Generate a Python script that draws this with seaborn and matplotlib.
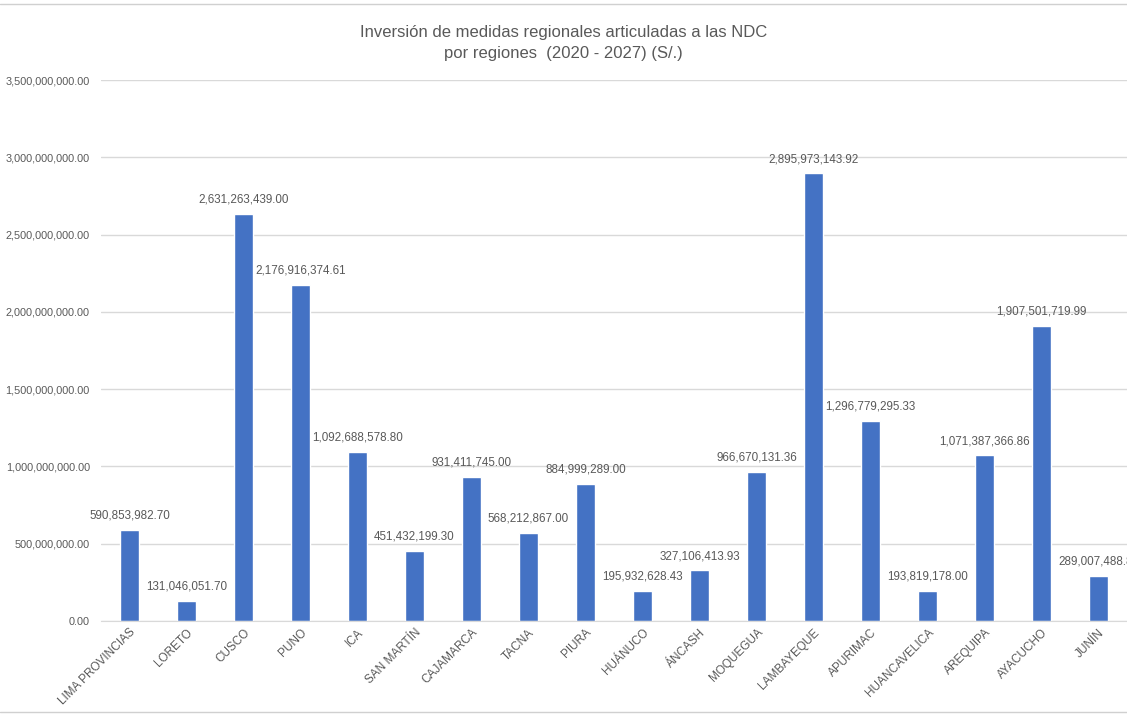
import pandas as pd
import numpy as np

import seaborn as sns
import matplotlib.pyplot as plt
import matplotlib as mpl
from matplotlib.ticker import FuncFormatter


regions = ['LIMA PROVINCIAS', 'LORETO', 'CUSCO', 'PUNO', 'ICA', 'SAN MARTÍN',
           'CAJAMARCA', 'TACNA', 'PIURA', 'HUÁNUCO', 'ÁNCASH', 'MOQUEGUA',
           'LAMBAYEQUE', 'APURIMAC', 'HUANCAVELICA', 'AREQUIPA', 'AYACUCHO', 'JUNÍN']
investment = [590853982.70, 131046051.70, 2631263439.00, 2176916374.61,
              1092688578.80, 451432199.30, 931411745.00, 568212867.00,
              884999289.00, 195932628.43, 327106413.93, 966670131.36,
              2895973143.92, 1296779295.33, 193819178.00, 1071387366.86,
              1907501719.99, 289007488.80]
y_ticks = [0, 500e6, 1000e6, 1500e6, 2000e6, 2500e6, 3000e6, 3500e6]

title = 'Inversión de medidas regionales articuladas a las NDC\npor regiones  (2020 - 2027) (S/.)'

BLUE = '#4472C4'
GREY = '#595959'


def draw_bars(df):
    sns.set_style('white')
    mpl.rcParams['font.family'] = ['Liberation Sans Narrow', 'Liberation Sans', 'DejaVu Sans']
    fig = plt.figure(figsize=(11.27, 7.14), dpi=100)
    ax = fig.add_axes([101 / 1127, 93 / 714, 1026 / 1127, 541 / 714])

    sns.barplot(data=df, x='region', y='value', color=BLUE, width=0.32,
                saturation=1, ax=ax)

    ax.set_ylim(0, 3.5e9)
    ax.set_xlim(-0.5, len(regions) - 0.5)
    ax.set_yticks(y_ticks)
    ax.yaxis.set_major_formatter(FuncFormatter(lambda v, p: f'{v:,.2f}'))
    ax.tick_params(axis='y', labelsize=7.8, labelcolor=GREY, length=0, pad=8)
    ax.tick_params(axis='x', labelsize=8.5, labelcolor=GREY, length=0, pad=4)
    plt.setp(ax.get_xticklabels(), rotation=45, ha='right', rotation_mode='anchor')
    ax.grid(axis='y', color='#D9D9D9', linewidth=1)
    ax.set_axisbelow(True)
    for s in ['top', 'right', 'left']:
        ax.spines[s].set_visible(False)
    ax.spines['bottom'].set_color('#D9D9D9')
    ax.set_xlabel('')
    ax.set_ylabel('')

    # value labels (the last one is cut at the right edge, as in the source)
    for i, v in enumerate(df['value']):
        ax.annotate(f'{v:,.2f}', (i, v), xytext=(0, 6), textcoords='offset points',
                    ha='center', va='bottom', fontsize=8.4, color=GREY,
                    annotation_clip=False)

    fig.text(0.5, 0.94, title, ha='center', va='center', fontsize=12,
             color=GREY, linespacing=1.5)

    # screenshot border lines
    fig.add_artist(plt.Line2D([0, 1], [1 - 4 / 714, 1 - 4 / 714], color='#D0D0D0', lw=1))
    fig.add_artist(plt.Line2D([0, 1], [2 / 714, 2 / 714], color='#D0D0D0', lw=1))

    plt.savefig('out.png', dpi=100)
    plt.close()


if __name__ == "__main__":
    df = pd.DataFrame({'region': regions, 'value': investment})
    draw_bars(df)
